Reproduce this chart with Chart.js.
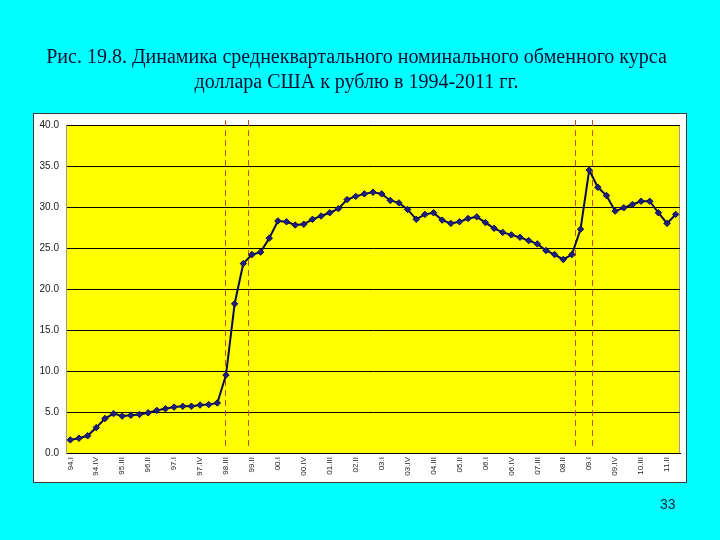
<!DOCTYPE html>
<html>
<head>
<meta charset="utf-8">
<script src="https://cdn.jsdelivr.net/npm/chart.js@4"></script>
<style>
  html, body { margin: 0; padding: 0; background: #00ffff; }
  #wrap { position: relative; width: 720px; height: 540px; }
  #page-num { position: absolute; left: 660px; top: 496px; font: 14px "Liberation Sans", Arial, sans-serif; color: #1a2a3a; }
</style>
</head>
<body>
<div id="wrap">
  <canvas id="chart" width="720" height="540"></canvas>
  <div id="page-num">33</div>
</div>
<script>
(function () {
  // кварталы 1994.I - 2011.III
  const QUARTERS = [
    '94.I', '94.II', '94.III', '94.IV',
    '95.I', '95.II', '95.III', '95.IV',
    '96.I', '96.II', '96.III', '96.IV',
    '97.I', '97.II', '97.III', '97.IV',
    '98.I', '98.II', '98.III', '98.IV',
    '99.I', '99.II', '99.III', '99.IV',
    '00.I', '00.II', '00.III', '00.IV',
    '01.I', '01.II', '01.III', '01.IV',
    '02.I', '02.II', '02.III', '02.IV',
    '03.I', '03.II', '03.III', '03.IV',
    '04.I', '04.II', '04.III', '04.IV',
    '05.I', '05.II', '05.III', '05.IV',
    '06.I', '06.II', '06.III', '06.IV',
    '07.I', '07.II', '07.III', '07.IV',
    '08.I', '08.II', '08.III', '08.IV',
    '09.I', '09.II', '09.III', '09.IV',
    '10.I', '10.II', '10.III', '10.IV',
    '11.I', '11.II', '11.III',
  ];

  // подписи оси X (каждый третий квартал)
  const TICK_LABELS = [
    '94.I', '94.IV', '95.III', '96.II', '97.I', '97.IV', '98.III', '99.II',
    '00.I', '00.IV', '01.III', '02.II', '03.I', '03.IV', '04.III', '05.II',
    '06.I', '06.IV', '07.III', '08.II', '09.I', '09.IV', '10.III', '11.II',
  ];

  // руб. за доллар, среднеквартальный курс
  const RATE = [
    1.6, 1.8, 2.1, 3.1,
    4.2, 4.8, 4.5, 4.6,
    4.7, 4.9, 5.2, 5.4,
    5.6, 5.7, 5.7, 5.85,
    5.9, 6.1, 9.5, 18.2,
    23.1, 24.2, 24.5, 26.2,
    28.3, 28.2, 27.8, 27.9,
    28.5, 28.9, 29.3, 29.8,
    30.9, 31.3, 31.6, 31.8,
    31.6, 30.8, 30.5, 29.7,
    28.5, 29.1, 29.3, 28.4,
    28.0, 28.2, 28.6, 28.8,
    28.1, 27.4, 26.9, 26.6,
    26.3, 25.9, 25.5, 24.7,
    24.2, 23.6, 24.2, 27.3,
    34.5, 32.4, 31.4, 29.5,
    29.9, 30.3, 30.7, 30.7,
    29.3, 28.0, 29.1,
  ];

  // пунктирные линии кризисов (позиция по оси категорий)
  const CRISIS_MARKS = [17.87, 20.49, 58.35, 60.28];

  const Y_TICKS = { min: 0, max: 40, step: 5 };

  // фон: белая рамка и жёлтая область построения
  const backdrop = {
    id: 'backdrop',
    beforeDraw(chart) {
      const { ctx, chartArea: a } = chart;
      ctx.save();
      ctx.fillStyle = '#ffffff';
      ctx.fillRect(a.left - 33, a.top - 12, a.width + 40, a.height + 42);
      ctx.strokeStyle = '#3a3a3a';
      ctx.lineWidth = 1;
      ctx.strokeRect(a.left - 32.5, a.top - 11.5, a.width + 39, a.height + 41);
      ctx.fillStyle = '#ffff00';
      ctx.fillRect(a.left, a.top, a.width, a.height);
      ctx.strokeStyle = '#9a9a9a';
      ctx.strokeRect(a.left + 0.5, a.top + 0.5, a.width - 1, a.height);
      ctx.restore();
    },
    beforeDatasetsDraw(chart) {
      const { ctx, scales } = chart;
      ctx.save();
      ctx.strokeStyle = '#c0501a';
      ctx.lineWidth = 1;
      ctx.setLineDash([6, 4]);
      CRISIS_MARKS.forEach(function (m) {
        const x = Math.round(scales.x.getPixelForValue(m)) + 0.5;
        ctx.beginPath();
        ctx.moveTo(x, scales.y.getPixelForValue(40.6));
        ctx.lineTo(x, scales.y.getPixelForValue(0.8));
        ctx.stroke();
      });
      ctx.restore();
    },
  };

  new Chart(document.getElementById('chart'), {
    type: 'line',
    data: {
      labels: QUARTERS,
      datasets: [
        {
          data: RATE,
          borderColor: '#0a0a50',
          borderWidth: 2,
          pointStyle: 'rectRot',
          pointRadius: 3.2,
          pointBackgroundColor: '#1e1e80',
          pointBorderColor: '#0a0a50',
          pointBorderWidth: 1,
          tension: 0,
        },
      ],
    },
    options: {
      responsive: false,
      animation: false,
      layout: {
        padding: { top: 45, left: 33, right: 40, bottom: 57 },
      },
      plugins: {
        legend: { display: false },
        tooltip: { enabled: false },
        title: {
          display: true,
          text: [
            'Рис. 19.8. Динамика среднеквартального номинального обменного курса',
            'доллара США к рублю в 1994-2011 гг.',
          ],
          color: '#0d0d30',
          font: { family: '"Liberation Serif", "Times New Roman", serif', size: 20, weight: 'normal', lineHeight: 1.25 },
          padding: { top: 0, bottom: 30 },
        },
      },
      scales: {
        x: {
          offset: true,
          grid: { display: false },
          border: { display: true, color: '#000000', width: 1 },
          afterFit: function (scale) { scale.height = 30; },
          ticks: {
            autoSkip: false,
            maxRotation: 90,
            minRotation: 90,
            padding: -4,
            color: '#1a1a1a',
            font: { family: '"Liberation Sans", Arial, sans-serif', size: 8 },
            callback: function (value, index) {
              const q = QUARTERS[index];
              return TICK_LABELS.indexOf(q) >= 0 ? q : '';
            },
          },
        },
        y: {
          min: Y_TICKS.min,
          max: Y_TICKS.max,
          grid: { color: '#000000', lineWidth: 1, drawTicks: false },
          border: { display: true, color: '#9a9a9a', width: 1 },
          afterFit: function (scale) { scale.width = 33; },
          ticks: {
            stepSize: Y_TICKS.step,
            padding: 7,
            color: '#1a1a1a',
            font: { family: '"Liberation Sans", Arial, sans-serif', size: 10 },
            callback: function (value) { return value.toFixed(1); },
          },
        },
      },
    },
    plugins: [backdrop],
  });
})();
</script>
</body>
</html>
